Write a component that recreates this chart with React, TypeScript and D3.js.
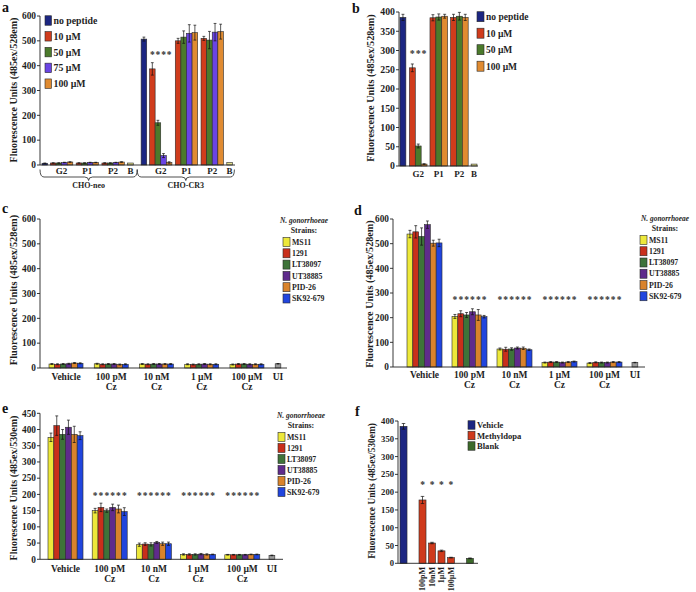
import React from "react";
import * as d3 from "d3";

const FONT = "'Liberation Serif','Times New Roman',serif";
const INK = "#1e1e1e";
const OUTLINE = "#2a2a2a";

// ---------------- Panel a ----------------
const aSeries = ["no peptide", "10 µM", "50 µM", "75 µM", "100 µM"];
const aColors = ["#1c2682", "#d03c1c", "#4b7a2b", "#6a44e4", "#e08b31"];
const blankColor = "#e4e08a";
const aTicks = [0, 100, 200, 300, 400, 500, 600];
const aClusters = ["CHO-neo", "CHO-CR3"];
const aGroupLabels = ["G2", "P1", "P2", "B"];
const aNeoG2 = [7, 8, 8, 10, 12];
const aNeoP1 = [8, 8, 10, 10];
const aNeoP2 = [8, 8, 10, 12];
const aNeoB = 8;
const aCr3G2 = [507, 387, 170, 38, 10];
const aCr3G2Err = [8, 25, 10, 8, 3];
const aCr3P1 = [500, 515, 530, 533];
const aCr3P1Err = [10, 25, 35, 30];
const aCr3P2 = [510, 503, 535, 537];
const aCr3P2Err = [8, 35, 35, 30];
const aCr3B = 10;
const aStarValue = 450;

// ---------------- Panel b ----------------
const bSeries = ["no peptide", "10 µM", "50 µM", "100 µM"];
const bColors = ["#1c2682", "#d03c1c", "#4b7a2b", "#e08b31"];
const bTicks = [0, 50, 100, 150, 200, 250, 300, 350, 400];
const bGroupLabels = ["G2", "P1", "P2", "B"];
const bG2 = [386, 255, 52, 5];
const bG2Err = [8, 10, 5, 1];
const bP1 = [385, 387, 389];
const bP1Err = [8, 8, 5];
const bP2 = [386, 389, 386];
const bP2Err = [8, 10, 8];
const bB = 5;
const bStarValue = 295;

// ---------------- Panels c, d, e ----------------
const strains = ["MS11", "1291", "LT38097", "UT38885", "PID-26", "SK92-679"];
const strainColors = ["#ede83a", "#c92f1b", "#3e7339", "#5f2b8c", "#d9832b", "#2145de"];
const uiColor = "#9c9c9c";
const treatments = ["Vehicle", "100 pM", "10 nM", "1 µM", "100 µM", "UI"];
const treatmentSub = ["", "Cz", "Cz", "Cz", "Cz", ""];
const cdTicks = [0, 100, 200, 300, 400, 500, 600];
const eTicks = [0, 50, 100, 150, 200, 250, 300, 350, 400, 450];

const cValues = [
  [16, 15, 16, 17, 20, 19],
  [17, 15, 16, 16, 14, 15],
  [16, 15, 16, 16, 16, 16],
  [15, 14, 15, 16, 15, 15],
  [14, 16, 16, 15, 15, 15],
];
const cErr = [
  [2, 2, 2, 2, 2, 2],
  [2, 2, 2, 2, 2, 2],
  [2, 2, 2, 2, 2, 2],
  [2, 2, 2, 2, 2, 2],
  [2, 2, 2, 2, 2, 2],
];
const cUI = 17;

const dValues = [
  [539, 548, 529, 577, 502, 503],
  [205, 216, 211, 224, 211, 204],
  [73, 72, 73, 77, 76, 70],
  [18, 20, 20, 18, 20, 22],
  [16, 19, 18, 18, 20, 20],
];
const dErr = [
  [15, 25, 35, 15, 12, 15],
  [8, 12, 10, 12, 22, 5],
  [4, 8, 5, 4, 5, 3],
  [2, 2, 2, 2, 2, 2],
  [2, 2, 2, 2, 2, 2],
];
const dUI = 18;
const dStarValue = 278;

const eValues = [
  [376, 412, 385, 407, 385, 381],
  [150, 160, 150, 160, 155, 147],
  [45, 47, 46, 52, 48, 48],
  [15, 15, 15, 16, 15, 15],
  [14, 14, 14, 14, 15, 15],
];
const eErr = [
  [13, 30, 15, 22, 25, 12],
  [7, 13, 5, 10, 12, 12],
  [5, 4, 5, 3, 5, 5],
  [2, 2, 2, 2, 2, 1],
  [1, 1, 1, 1, 1, 1],
];
const eUI = 12;
const eStarValue = 200;

// ---------------- Panel f ----------------
const fSlots = ["Vehicle", "gap1", "100pM", "10nM", "1µM", "100µM", "gap2", "Blank"];
const fCats = ["Vehicle", "100pM", "10nM", "1µM", "100µM", "Blank"];
const fValues = [385, 178, 57, 35, 16, 14];
const fErr = [8, 10, 2, 2, 1, 1];
const fLegend = ["Vehicle", "Methyldopa", "Blank"];
const fColors = ["#1c2682", "#cf3a1c", "#3d6b2a"];
const fTicks = [0, 50, 100, 150, 200, 250, 300, 350, 400];
const fStarValue = 225;

type Bar = { x: number; w: number; v: number; e: number; color: string; star?: boolean };

function BarMarks({ bars, y, starValue, starFs = 9 }: any) {
  const base = y(0);
  return (
    <g>
      {bars.map((b: Bar, i: number) => {
        const top = y(b.v);
        return (
          <rect key={"r" + i} x={b.x} y={top} width={b.w} height={Math.max(0.5, base - top)}
            fill={b.color} stroke={OUTLINE} strokeWidth={0.6} />
        );
      })}
      {bars.map((b: Bar, i: number) => {
        if (!b.e) return null;
        const cx = b.x + b.w / 2;
        const cw = Math.max(1.3, b.w * 0.25);
        const hi = y(b.v + b.e);
        const lo = y(Math.max(0, b.v - b.e));
        return (
          <g key={"e" + i} stroke="#111" strokeWidth={0.7}>
            <line x1={cx} x2={cx} y1={hi} y2={lo} />
            <line x1={cx - cw} x2={cx + cw} y1={hi} y2={hi} />
            <line x1={cx - cw} x2={cx + cw} y1={lo} y2={lo} />
          </g>
        );
      })}
      {bars.map((b: Bar, i: number) =>
        b.star ? (
          <text key={"s" + i} x={b.x + b.w / 2} y={y(starValue) + starFs * 0.46} fontSize={starFs}
            textAnchor="middle" fontWeight="bold" fill="#333">*</text>
        ) : null
      )}
    </g>
  );
}

function YAxis({ x, y, ticks, fs, xEnd }: any) {
  const y0 = y(0);
  const yTop = y(ticks[ticks.length - 1]);
  return (
    <g>
      <line x1={x} x2={x} y1={yTop} y2={y0} stroke="#222" strokeWidth={0.9} />
      <line x1={x} x2={xEnd} y1={y0} y2={y0} stroke="#222" strokeWidth={0.9} />
      {ticks.map((t: number) => (
        <g key={t}>
          <line x1={x - 3} x2={x} y1={y(t)} y2={y(t)} stroke="#222" strokeWidth={0.9} />
          <text x={x - 4} y={y(t)} dy="0.35em" textAnchor="end" fontSize={fs} fontWeight="bold" fill={INK}>{t}</text>
        </g>
      ))}
    </g>
  );
}

function YTitle({ x, y, text, fs }: any) {
  return (
    <text transform={`translate(${x},${y}) rotate(-90)`} textAnchor="middle" fontSize={fs}
      fontWeight="bold" fill={INK} dy="0.35em">{text}</text>
  );
}

function PanelLabel({ x, y, t }: any) {
  return <text x={x} y={y} fontSize={14} fontWeight="bold" fill="#111">{t}</text>;
}

function Legend({ x, y0, step, labels, colors, fs, w = 7, h = 9 }: any) {
  return (
    <g>
      {labels.map((l: string, i: number) => (
        <g key={l}>
          <rect x={x} y={y0 + i * step - h / 2} width={w} height={h} fill={colors[i]} stroke={OUTLINE} strokeWidth={0.6} />
          <text x={x + w + 2} y={y0 + i * step} dy="0.35em" fontSize={fs} fontWeight="bold" fill={INK}>{l}</text>
        </g>
      ))}
    </g>
  );
}

function StrainLegend({ cx, titleY, x, y0, step }: any) {
  return (
    <g>
      <text x={cx} y={titleY} dy="0.35em" textAnchor="middle" fontSize={7.4} fontWeight="bold" fontStyle="italic" fill={INK}>N. gonorrhoeae</text>
      <text x={cx} y={titleY + 10} dy="0.35em" textAnchor="middle" fontSize={7.8} fontWeight="bold" fill={INK}>Strains:</text>
      <Legend x={x} y0={y0} step={step} labels={strains} colors={strainColors} fs={7.8} w={7} h={9} />
    </g>
  );
}

// layout of unit-based groups (panels a, b)
type Grp = { label: string; bars: { v: number; e: number; color: string; star?: boolean }[]; split?: boolean; cluster: number };

function layoutUnits(groups: Grp[], gap: number, clusterGap: number, splitGap: number) {
  let u = 0;
  const out: any[] = [];
  groups.forEach((g, gi) => {
    if (gi > 0) u += groups[gi - 1].cluster !== g.cluster ? clusterGap : gap;
    const start = u;
    const bars = g.bars.map((b, bi) => {
      if (g.split && bi === 1) u += splitGap;
      const bu = u;
      u += 1;
      return { ...b, u: bu };
    });
    const lblBars = g.split ? bars.slice(1) : bars;
    const lc = (lblBars[0].u + lblBars[lblBars.length - 1].u + 1) / 2;
    out.push({ ...g, start, end: u, bars, labelU: lc });
  });
  return { groups: out, total: u };
}

function brace(xL: number, xR: number, yTop: number, yLine: number, yTip: number) {
  const m = (xL + xR) / 2;
  const r = 4;
  return `M${xL},${yTop} Q${xL},${yLine} ${xL + r},${yLine} L${m - r},${yLine} Q${m},${yLine} ${m},${yTip} Q${m},${yLine} ${m + r},${yLine} L${xR - r},${yLine} Q${xR},${yLine} ${xR},${yTop}`;
}

function PanelA() {
  const mk = (vals: number[], errs: number[] | null, offset: number, star: boolean) =>
    vals.map((v, i) => ({ v, e: errs ? errs[i] : 1, color: aColors[i + offset], star: star && i + offset > 0 }));
  const groups: Grp[] = [
    { label: aGroupLabels[0], bars: mk(aNeoG2, null, 0, false), split: true, cluster: 0 },
    { label: aGroupLabels[1], bars: mk(aNeoP1, null, 1, false), cluster: 0 },
    { label: aGroupLabels[2], bars: mk(aNeoP2, null, 1, false), cluster: 0 },
    { label: aGroupLabels[3], bars: [{ v: aNeoB, e: 0, color: blankColor }], cluster: 0 },
    { label: aGroupLabels[0], bars: mk(aCr3G2, aCr3G2Err, 0, true), split: true, cluster: 1 },
    { label: aGroupLabels[1], bars: mk(aCr3P1, aCr3P1Err, 1, false), cluster: 1 },
    { label: aGroupLabels[2], bars: mk(aCr3P2, aCr3P2Err, 1, false), cluster: 1 },
    { label: aGroupLabels[3], bars: [{ v: aCr3B, e: 0, color: blankColor }], cluster: 1 },
  ];
  const L = layoutUnits(groups, 0.6, 1.4, 0.5);
  const x = d3.scaleLinear().domain([0, L.total]).range([42, 232.4]);
  const y = d3.scaleLinear().domain([0, 600]).range([165, 16]);
  const unitW = x(1) - x(0);
  const bars: Bar[] = [];
  L.groups.forEach((g: any) => g.bars.forEach((b: any) => bars.push({ x: x(b.u), w: unitW, v: b.v, e: b.e, color: b.color, star: b.star })));
  const clusterRanges = aClusters.map((c, ci) => {
    const gs = L.groups.filter((g: any) => g.cluster === ci);
    return [gs[0].start, gs[gs.length - 1].end];
  });
  const split = (clusterRanges[0][1] + clusterRanges[1][0]) / 2;
  const bx = [[x(0) - 2, x(split)], [x(split), x(L.total) + 2]];
  return (
    <g>
      <PanelLabel x={2} y={12} t="a" />
      <YTitle x={13.5} y={90} text="Fluorescence Units (485ex/528em)" fs={10} />
      <BarMarks bars={bars} y={y} starValue={aStarValue} starFs={9.5} />
      <YAxis x={40} y={y} ticks={aTicks} fs={9.4} xEnd={235} />
      {L.groups.map((g: any, i: number) => (
        <text key={i} x={x(g.labelU)} y={171} dy="0.35em" textAnchor="middle" fontSize={9} fontWeight="bold" fill={INK}>{g.label}</text>
      ))}
      {aClusters.map((c, ci) => (
        <g key={c}>
          <path d={brace(bx[ci][0], bx[ci][1], 169.5, 177, 180.5)} fill="none" stroke="#222" strokeWidth={0.8} />
          <text x={(bx[ci][0] + bx[ci][1]) / 2} y={185} dy="0.35em" textAnchor="middle" fontSize={8} fontWeight="bold" fill={INK}>{c}</text>
        </g>
      ))}
      <Legend x={45} y0={20.5} step={15.8} labels={aSeries} colors={aColors} fs={9.8} w={6.5} h={9.5} />
    </g>
  );
}

function PanelB() {
  const mk = (vals: number[], errs: number[], offset: number, star: boolean) =>
    vals.map((v, i) => ({ v, e: errs[i], color: bColors[i + offset], star: star && i + offset > 0 }));
  const groups: Grp[] = [
    { label: bGroupLabels[0], bars: mk(bG2, bG2Err, 0, true), split: true, cluster: 0 },
    { label: bGroupLabels[1], bars: mk(bP1, bP1Err, 1, false), cluster: 0 },
    { label: bGroupLabels[2], bars: mk(bP2, bP2Err, 1, false), cluster: 0 },
    { label: bGroupLabels[3], bars: [{ v: bB, e: 0, color: blankColor }], cluster: 0 },
  ];
  const L = layoutUnits(groups, 0.5, 0.5, 0.6);
  const x = d3.scaleLinear().domain([0, L.total]).range([400, 477]);
  const y = d3.scaleLinear().domain([0, 400]).range([166, 12]);
  const unitW = x(1) - x(0);
  const bars: Bar[] = [];
  L.groups.forEach((g: any) => g.bars.forEach((b: any) => bars.push({ x: x(b.u), w: unitW, v: b.v, e: b.e, color: b.color, star: b.star })));
  return (
    <g>
      <PanelLabel x={352} y={13} t="b" />
      <YTitle x={370} y={88} text="Fluorescence Units (485ex/528em)" fs={10.2} />
      <BarMarks bars={bars} y={y} starValue={bStarValue} starFs={10} />
      <YAxis x={399} y={y} ticks={bTicks} fs={9.8} xEnd={478} />
      {L.groups.map((g: any, i: number) => (
        <text key={i} x={x(g.labelU)} y={173.5} dy="0.35em" textAnchor="middle" fontSize={9} fontWeight="bold" fill={INK}>{g.label}</text>
      ))}
      <Legend x={477} y0={16.7} step={16.5} labels={bSeries} colors={bColors} fs={9.5} w={7} h={10} />
    </g>
  );
}

function StrainPanel({ values, errs, ui, ticks, yDomainMax, yRange, xRange, pad, axisX, xEnd, starValue, label, labelPos, title, titlePos, titleFs, legendPos, lblY }: any) {
  const xo = d3.scaleBand<string>().domain(treatments).range(xRange).paddingInner(pad).paddingOuter(0);
  const xi = d3.scaleBand<number>().domain(d3.range(strains.length)).range([0, xo.bandwidth()]);
  const y = d3.scaleLinear().domain([0, yDomainMax]).range(yRange);
  const bars: Bar[] = [];
  values.forEach((row: number[], gi: number) =>
    row.forEach((v: number, si: number) =>
      bars.push({ x: (xo(treatments[gi]) as number) + (xi(si) as number), w: xi.bandwidth(), v, e: errs[gi][si], color: strainColors[si], star: starValue != null && gi > 0 })
    )
  );
  const uiX = xo("UI") as number;
  bars.push({ x: uiX, w: xi.bandwidth(), v: ui, e: 1, color: uiColor });
  return (
    <g>
      <PanelLabel x={labelPos[0]} y={labelPos[1]} t={label} />
      <YTitle x={titlePos[0]} y={titlePos[1]} text={title} fs={titleFs} />
      <BarMarks bars={bars} y={y} starValue={starValue} starFs={9.5} />
      <YAxis x={axisX} y={y} ticks={ticks} fs={9.3} xEnd={xEnd} />
      {treatments.map((t, i) => {
        const cx = t === "UI" ? uiX + xi.bandwidth() / 2 : (xo(t) as number) + xo.bandwidth() / 2;
        return (
          <g key={t}>
            <text x={cx} y={lblY} dy="0.35em" textAnchor="middle" fontSize={9.5} fontWeight="bold" fill={INK}>{t}</text>
            {treatmentSub[i] ? (
              <text x={cx} y={lblY + 10} dy="0.35em" textAnchor="middle" fontSize={9.5} fontWeight="bold" fill={INK}>{treatmentSub[i]}</text>
            ) : null}
          </g>
        );
      })}
      <StrainLegend cx={legendPos.cx} titleY={legendPos.titleY} x={legendPos.x} y0={legendPos.y0} step={legendPos.step} />
    </g>
  );
}

function PanelF() {
  const x = d3.scaleBand<string>().domain(fSlots).range([400, 473.5]).paddingInner(0.26).paddingOuter(0);
  const y = d3.scaleLinear().domain([0, 400]).range([563.3, 421]);
  const colorOf = (c: string) => (c === "Vehicle" ? fColors[0] : c === "Blank" ? fColors[2] : fColors[1]);
  const bars: Bar[] = fCats.map((c, i) => ({
    x: x(c) as number, w: x.bandwidth(), v: fValues[i], e: fErr[i], color: colorOf(c),
    star: c !== "Vehicle" && c !== "Blank",
  }));
  const rotLabels = fCats.filter((c) => c !== "Vehicle" && c !== "Blank");
  return (
    <g>
      <PanelLabel x={355} y={416} t="f" />
      <YTitle x={372} y={491} text="Fluorescence Units (485ex/530em)" fs={9.4} />
      <BarMarks bars={bars} y={y} starValue={fStarValue} starFs={9.5} />
      <YAxis x={398} y={y} ticks={fTicks} fs={8.6} xEnd={478} />
      {rotLabels.map((c) => (
        <text key={c} transform={`translate(${(x(c) as number) + x.bandwidth() / 2},567) rotate(-90)`} dy="0.35em"
          textAnchor="end" fontSize={8} fontWeight="bold" fill={INK}>{c}</text>
      ))}
      <Legend x={468} y0={425} step={10.5} labels={fLegend} colors={fColors} fs={8.6} w={7} h={8.5} />
    </g>
  );
}

export default function App() {
  return (
    <svg width={696} height={592} style={{ position: "absolute", left: 0, top: 0, background: "#fff", fontFamily: FONT }}>
      <rect width={696} height={592} fill="#fff" />
      <PanelA />
      <PanelB />
      <StrainPanel values={cValues} errs={cErr} ui={cUI} ticks={cdTicks} yDomainMax={600} yRange={[368, 219]}
        xRange={[49, 309.2]} pad={0.248} axisX={40} xEnd={287} starValue={null} label="c" labelPos={[2, 213]}
        title="Fluorescence Units (485ex/528em)" titlePos={[13.5, 290]} titleFs={10.4}
        legendPos={{ cx: 304, titleY: 220, x: 283, y0: 242, step: 11.3 }} lblY={377} />
      <StrainPanel values={dValues} errs={dErr} ui={dUI} ticks={cdTicks} yDomainMax={600} yRange={[367, 219]}
        xRange={[407, 667]} pad={0.222} axisX={393} xEnd={645} starValue={dStarValue} label="d" labelPos={[354, 215]}
        title="Fluorescence Units (485ex/528em)" titlePos={[369.5, 294]} titleFs={10.2}
        legendPos={{ cx: 665, titleY: 218, x: 640, y0: 240, step: 11.25 }} lblY={375} />
      <StrainPanel values={eValues} errs={eErr} ui={eUI} ticks={eTicks} yDomainMax={450} yRange={[559.3, 413.3]}
        xRange={[48, 304]} pad={0.208} axisX={40} xEnd={283} starValue={eStarValue} label="e" labelPos={[2, 413]}
        title="Fluorescence Units (485ex/530em)" titlePos={[13.5, 488]} titleFs={10}
        legendPos={{ cx: 301, titleY: 415, x: 278, y0: 437, step: 11 }} lblY={569} />
      <PanelF />
    </svg>
  );
}
